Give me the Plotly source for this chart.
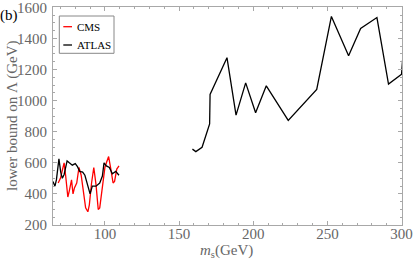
import plotly.graph_objects as go

# CMS (red) low-mass bound
cms_m = [68.5, 70, 71.5, 72.5, 73.5, 75, 76, 77.5, 78.5, 79.5, 81, 82.5, 84, 85.5,
         87, 88.5, 89.5, 91, 92.5, 94, 95.5, 96.5, 98, 100, 101, 102.5, 104, 105.5,
         106.5, 108, 109.5]
cms_L = [470, 500, 560, 600, 520, 380, 420, 490, 400, 440, 470, 570, 520, 410,
         310, 285, 330, 470, 570, 460, 300, 310, 430, 570, 600, 640, 560, 470,
         480, 560, 580]

# ATLAS (black) low-mass bound
atlas_lo_m = [65, 66.3, 67.3, 69, 70.2, 71.3, 72.5, 74.5, 76, 78, 80, 81.5, 83, 85,
              86.5, 88.3, 90, 91.5, 94, 96.5, 98.3, 99.4, 101, 103, 105, 107.3, 109.5]
atlas_lo_L = [480, 450, 490, 625, 540, 500, 525, 612, 600, 585, 595, 575, 545, 540,
              520, 450, 400, 450, 450, 470, 515, 600, 580, 570, 530, 545, 520]

# ATLAS (black) high-mass bound
atlas_hi_m = [159, 161.3, 165.5, 170.6, 170.9, 182.3, 188.4, 194.9, 201.6, 208.8,
              223.6, 242.8, 252.7, 264.3, 272.4, 283.4, 291.2, 300, 301]
atlas_hi_L = [688, 672, 700, 850, 1040, 1276, 907, 1114, 922, 1095,
              873, 1072, 1541, 1289, 1464, 1534, 1106, 1170, 1300]

x_ticks = [100, 150, 200, 250, 300]
y_ticks = [200, 400, 600, 800, 1000, 1200, 1400, 1600]

SERIF = "Liberation Serif"
AX = "#a8a8a8"
TXT = "#666666"

fig = go.Figure()
fig.add_trace(go.Scatter(x=cms_m, y=cms_L, mode="lines", name="CMS",
                         line=dict(color="#ff0000", width=1.3), showlegend=False))
fig.add_trace(go.Scatter(x=atlas_lo_m, y=atlas_lo_L, mode="lines", name="ATLAS",
                         line=dict(color="black", width=1.3), showlegend=False))
fig.add_trace(go.Scatter(x=atlas_hi_m, y=atlas_hi_L, mode="lines", name="ATLAS",
                         line=dict(color="black", width=1.3), showlegend=False))

axis_common = dict(showline=True, mirror="ticks", linecolor=AX, linewidth=1,
                   ticks="inside", ticklen=4, tickcolor=AX, tickwidth=1,
                   showgrid=False, zeroline=False, automargin=False,
                   ticklabeloverflow="allow",
                   tickfont=dict(family=SERIF, size=15, color=TXT))

fig.update_xaxes(range=[65, 300.3], tickvals=x_ticks, ticklabelstandoff=-5,
                 minor=dict(dtick=10, ticklen=2, tickcolor=AX, ticks="inside"),
                 **axis_common)
fig.update_yaxes(range=[200, 1602], tickvals=y_ticks, ticklabelstandoff=2,
                 minor=dict(dtick=50, ticklen=2, tickcolor=AX, ticks="inside"),
                 **axis_common)

# legend box drawn manually
PW, PH, L0, B0 = 349.0, 218.0, 53.0, 225.0
def px(X): return (X - L0) / PW
def py(Y): return (B0 - Y) / PH

shapes = [
    dict(type="rect", xref="paper", yref="paper", x0=px(59.3), x1=px(114),
         y0=py(53.3), y1=py(16), line=dict(color="#888888", width=1), fillcolor="white"),
    dict(type="line", xref="paper", yref="paper", x0=px(63.3), x1=px(72),
         y0=py(26.7), y1=py(26.7), line=dict(color="#ff0000", width=1.3)),
    dict(type="line", xref="paper", yref="paper", x0=px(63.3), x1=px(72),
         y0=py(45), y1=py(45), line=dict(color="black", width=1.3)),
]
annotations = [
    dict(text="CMS", xref="paper", yref="paper", x=px(75), y=py(26.7),
         xanchor="left", yanchor="middle", showarrow=False,
         font=dict(family=SERIF, size=11, color="black")),
    dict(text="ATLAS", xref="paper", yref="paper", x=px(75), y=py(45),
         xanchor="left", yanchor="middle", showarrow=False,
         font=dict(family=SERIF, size=11, color="black")),
    dict(text="(b)", xref="paper", yref="paper", x=px(-2), y=py(15),
         xanchor="left", yanchor="middle", showarrow=False,
         font=dict(family=SERIF, size=15, color="black")),
    dict(text="<i>m</i><sub>s</sub>(GeV)", xref="paper", yref="paper",
         x=px(226), y=py(251), xanchor="center", yanchor="middle", showarrow=False,
         font=dict(family=SERIF, size=15, color=TXT)),
    dict(text="lower bound on Λ (GeV)", xref="paper", yref="paper", textangle=-90,
         x=px(12), y=py(116), xanchor="center", yanchor="middle", showarrow=False,
         font=dict(family=SERIF, size=15, color=TXT)),
]

fig.update_layout(width=415, height=262, autosize=False,
                  margin=dict(l=53, r=13, t=7, b=37),
                  plot_bgcolor="white", paper_bgcolor="white",
                  shapes=shapes, annotations=annotations, showlegend=False)

fig.write_html("out.html", config={"displayModeBar": False},
               post_script="document.body.style.margin='0';document.body.style.padding='0';")
